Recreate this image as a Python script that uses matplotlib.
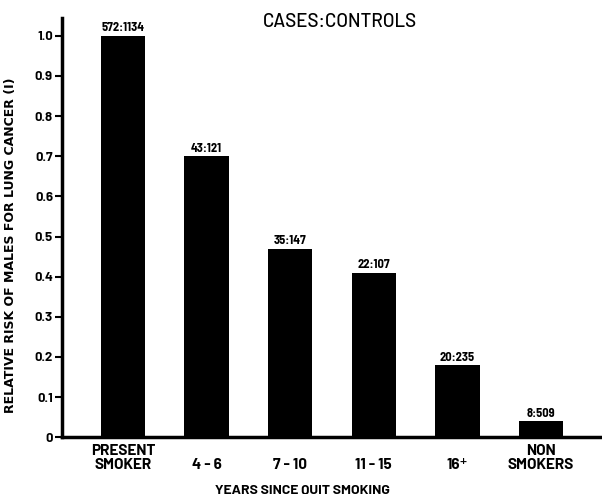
import matplotlib.pyplot as plt
import numpy as np

plt.rcParams['font.family'] = ['Barlow', 'Liberation Sans', 'DejaVu Sans']
narrow = ['Barlow Semi Condensed', 'Liberation Sans Narrow', 'DejaVu Sans']

# data
groups = ['PRESENT\nSMOKER', '4 - 6', '7 - 10', '11 - 15', '16⁺', 'NON\nSMOKERS']
risk = [1.0, 0.70, 0.47, 0.41, 0.18, 0.04]
counts = ['572:1134', '43:121', '35:147', '22:107', '20:235', '8:509']
yticks = [0, 0.1, 0.2, 0.3, 0.4, 0.5, 0.6, 0.7, 0.8, 0.9, 1.0]
ylabels = ['0', '0.1', '0.2', '0.3', '0.4', '0.5', '0.6', '0.7', '0.8', '0.9', '1.0']

fig = plt.figure(figsize=(6.02, 4.94), dpi=100)
ax = fig.add_axes([0.103, 0.115, 0.897, 0.849])

x = np.arange(len(groups))
bars = ax.bar(x, risk, width=0.53, color='black')

for b, lab in zip(bars, counts):
    ax.text(b.get_x() + b.get_width() / 2, b.get_height() + 0.006, lab,
            ha='center', va='bottom', fontsize=9, fontweight='bold', family=narrow)

ax.set_xlim(-0.73, 5.73)
ax.set_ylim(0, 1.045)

ax.set_yticks(yticks)
ax.set_yticklabels(ylabels, fontsize=9.5, fontweight='bold')
ax.set_xticks(x)
ax.set_xticklabels(groups, fontsize=11, fontweight='bold', linespacing=0.95)
for t in ax.get_xticklabels():
    t.set_verticalalignment('bottom')
ax.tick_params(axis='x', length=0, pad=25)
ax.tick_params(axis='y', length=5, width=1.5, direction='out', pad=1.5)

for s in ['top', 'right']:
    ax.spines[s].set_visible(False)
ax.spines['left'].set_linewidth(2.5)
ax.spines['bottom'].set_linewidth(2.5)

ax.set_ylabel('RELATIVE RISK OF MALES FOR LUNG CANCER (I)', fontsize=9, fontweight='bold',
              family='DejaVu Sans')
ax.yaxis.set_label_coords(-0.083, 0.458)
ax.set_xlabel('YEARS SINCE QUIT SMOKING', fontsize=10, fontweight='bold', va='center')
ax.xaxis.set_label_coords(0.446, -0.126)

ax.text(0.515, 0.99, 'CASES:CONTROLS', transform=ax.transAxes, ha='center', va='center',
        fontsize=13.5, fontweight='medium', clip_on=False)

fig.savefig('out.png', dpi=100)
